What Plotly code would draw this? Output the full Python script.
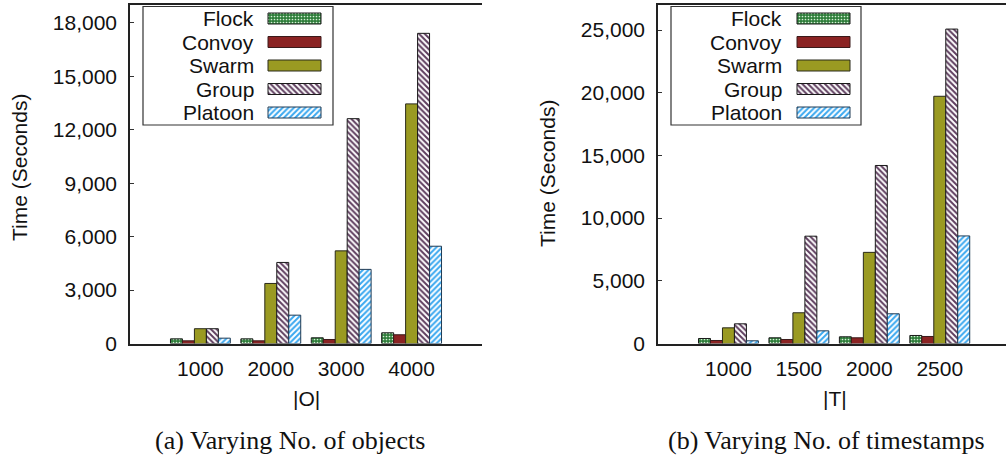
import plotly.graph_objects as go

# Running time (seconds) per pattern type
series_names = ["Flock", "Convoy", "Swarm", "Group", "Platoon"]

objects_labels = ["1000", "2000", "3000", "4000"]
flock_o = [260, 260, 320, 600]
convoy_o = [150, 150, 225, 490]
swarm_o = [830, 3370, 5200, 13450]
group_o = [830, 4550, 12620, 17410]
platoon_o = [300, 1590, 4160, 5460]

timestamps_labels = ["1000", "1500", "2000", "2500"]
flock_t = [400, 455, 535, 640]
convoy_t = [240, 320, 455, 560]
swarm_t = [1250, 2450, 7270, 19720]
group_t = [1570, 8560, 14200, 25080]
platoon_t = [215, 1010, 2370, 8580]

y_ticks_o = [0, 3000, 6000, 9000, 12000, 15000, 18000]
y_ticks_t = [0, 5000, 10000, 15000, 20000, 25000]

W, H = 1006, 461
SANS = "Liberation Sans"
SERIF = "Liberation Serif"

# fill style per series: (background, foreground, pattern shape, size, solidity)
styles = {
    "Flock": ("#2e7d3a", "#d6f0d6", ".", 3, 0.25),
    "Convoy": ("#8b2323", "#8b2323", "", 8, 0.3),
    "Swarm": ("#9a9a22", "#9a9a22", "", 8, 0.3),
    "Group": ("#ffffff", "#5e3d5e", "\\", 4, 0.5),
    "Platoon": ("#ffffff", "#3aa8f0", "/", 4, 0.5),
}
outline = {"Flock": "#1a1a1a", "Convoy": "#3a1a1a", "Swarm": "#2a2a1a",
           "Group": "#1a1a1a", "Platoon": "#1f3b55"}

fig = go.Figure()


def add_bars(values, xa, ya):
    xs = list(range(1, len(values[0]) + 1))
    for name, vals in zip(series_names, values):
        bg, fg, shp, sz, sol = styles[name]
        fig.add_trace(go.Bar(
            x=xs, y=vals, name=name, xaxis=xa, yaxis=ya, showlegend=False,
            marker=dict(
                color=bg,
                line=dict(color=outline[name], width=1),
                pattern=dict(shape=shp, fgcolor=fg, bgcolor=bg, size=sz,
                             solidity=sol, fillmode="replace"),
            ),
        ))


add_bars([flock_o, convoy_o, swarm_o, group_o, platoon_o], "x", "y")
add_bars([flock_t, convoy_t, swarm_t, group_t, platoon_t], "x2", "y2")


def px(x):
    return x / W


def py(y):
    return 1 - y / H


# legend swatches, drawn on a full-figure pixel overlay
def add_legend(box_l, box_r, text_r, sw_l, sw_r):
    fig.add_shape(type="rect", xref="paper", yref="paper",
                  x0=px(box_l), x1=px(box_r), y0=py(125), y1=py(6.5),
                  line=dict(color="#333333", width=1.2), layer="below")
    row_y = [18.5, 42, 65.5, 89, 112.5]
    for name, cy in zip(series_names, row_y):
        bg, fg, shp, sz, sol = styles[name]
        y0, y1 = cy - 5.5, cy + 5.5
        fig.add_trace(go.Scatter(
            x=[sw_l, sw_r, sw_r, sw_l, sw_l], y=[y0, y0, y1, y1, y0],
            xaxis="x3", yaxis="y3", mode="lines", fill="toself",
            fillcolor=bg, line=dict(color=outline[name], width=1),
            fillpattern=dict(shape=shp, fgcolor=fg, bgcolor=bg, size=sz,
                             solidity=sol, fillmode="replace"),
            showlegend=False, hoverinfo="skip",
        ))
        fig.add_annotation(x=px(text_r), y=py(cy), xref="paper", yref="paper",
                           text=name, showarrow=False, xanchor="right",
                           yanchor="middle",
                           font=dict(family=SANS, size=21, color="#111111"))


add_legend(143, 333, 256, 268, 321)
add_legend(671, 861, 784, 797, 850)

axis_common = dict(showgrid=False, zeroline=False, showline=True,
                   linecolor="#222222", linewidth=1.5, automargin=False)
tick_font = dict(family=SANS, size=21, color="#111111")

y0d, y1d = py(343.5), py(5)

fig.update_layout(
    width=W, height=H,
    margin=dict(l=0, r=0, t=0, b=0, pad=0, autoexpand=False),
    paper_bgcolor="white", plot_bgcolor="rgba(0,0,0,0)",
    barmode="group", bargap=0.15, bargroupgap=0,
    xaxis=dict(domain=[px(130), px(482)], range=[0, 5], anchor="y",
               tickvals=[1, 2, 3, 4], ticktext=objects_labels, ticks="",
               ticklabelstandoff=6,
               mirror=True, tickfont=tick_font, **axis_common),
    yaxis=dict(domain=[y0d, y1d], range=[0, 19000], anchor="x",
               tickvals=y_ticks_o, tickformat=",d", ticks="inside",
               ticklen=4, tickcolor="#333333", tickfont=tick_font,
               ticklabelstandoff=7, **axis_common),
    xaxis2=dict(domain=[px(658), 1], range=[0, 4.94], anchor="y2",
                tickvals=[1, 2, 3, 4], ticktext=timestamps_labels, ticks="",
                ticklabelstandoff=6,
                mirror=True, tickfont=tick_font, **axis_common),
    yaxis2=dict(domain=[y0d, y1d], range=[0, 27000], anchor="x2",
                tickvals=y_ticks_t, tickformat=",d", ticks="inside",
                ticklen=4, tickcolor="#333333", tickfont=tick_font,
                ticklabelstandoff=7, **axis_common),
    xaxis3=dict(domain=[0, 1], range=[0, W], visible=False, anchor="y3",
                fixedrange=True, automargin=False),
    yaxis3=dict(domain=[0, 1], range=[H, 0], visible=False, anchor="x3",
                fixedrange=True, automargin=False),
)

# axis titles and captions
texts = [
    (20, 168, "Time (Seconds)", SANS, 21, -90),
    (548, 174, "Time (Seconds)", SANS, 21, -90),
    (306, 398, "|O|", SANS, 21, 0),
    (835, 398, "|T|", SANS, 21, 0),
    (290, 440, "(a) Varying No. of objects", SERIF, 26, 0),
    (826, 440, "(b) Varying No. of timestamps", SERIF, 26, 0),
]
for x, y, t, fam, size, ang in texts:
    fig.add_annotation(x=px(x), y=py(y), xref="paper", yref="paper", text=t,
                       showarrow=False, xanchor="center", yanchor="middle",
                       textangle=ang,
                       font=dict(family=fam, size=size, color="#111111"))

fig.write_html("out.html")
